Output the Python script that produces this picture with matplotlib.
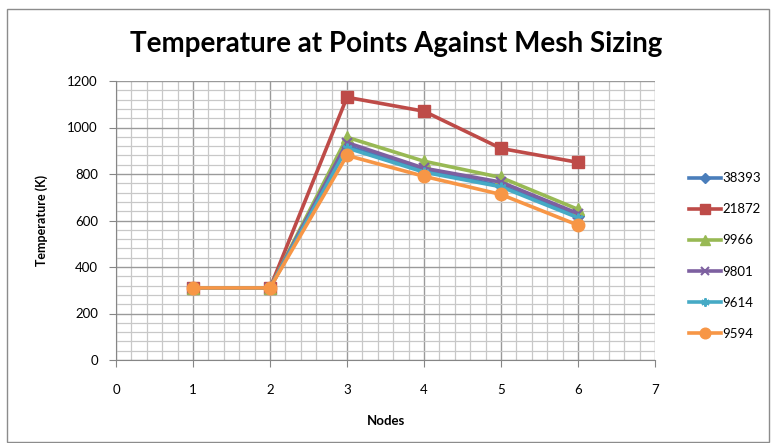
import matplotlib
matplotlib.use("Agg")
import matplotlib.pyplot as plt
from matplotlib.patches import Rectangle
from matplotlib.ticker import MultipleLocator

plt.rcParams['font.family'] = ['Lato', 'DejaVu Sans']

nodes = [1, 2, 3, 4, 5, 6]
series_names = ["38393", "21872", "9966", "9801", "9614", "9594"]
t_38393 = [310, 310, 920, 815, 750, 620]
t_21872 = [310, 310, 1130, 1070, 910, 850]
t_9966 = [310, 310, 958, 855, 785, 648]
t_9801 = [310, 310, 935, 825, 765, 630]
t_9614 = [310, 310, 912, 808, 745, 612]
t_9594 = [310, 310, 880, 790, 712, 580]
series_values = [t_38393, t_21872, t_9966, t_9801, t_9614, t_9594]

colors = ["#4A7EBB", "#BE4B48", "#98B954", "#7D60A0", "#46AAC5", "#F79646"]
markers = ["D", "s", "^", "x", (6, 2, 0), "o"]
msizes = [6, 9, 8, 7, 7, 9]

fig = plt.figure(figsize=(7.71, 4.43), dpi=100)
fig.patches.append(Rectangle((7 / 771, 1 / 443), 762 / 771, 433 / 443,
                             transform=fig.transFigure, fill=False,
                             edgecolor="#8C8C8C", linewidth=1.0))

ax = fig.add_axes([116 / 771, 1 - 360 / 443, 539 / 771, 279 / 443])
ax.set_xlim(0, 7)
ax.set_ylim(0, 1200)
ax.xaxis.set_major_locator(MultipleLocator(1))
ax.xaxis.set_minor_locator(MultipleLocator(0.2))
ax.yaxis.set_major_locator(MultipleLocator(200))
ax.yaxis.set_minor_locator(MultipleLocator(40))
ax.grid(which="minor", color="#C8C8C8", linewidth=0.9)
ax.grid(which="major", color="#9A9A9A", linewidth=1.0)
ax.set_axisbelow(True)

for name, vals, c, m, ms in zip(series_names, series_values, colors, markers, msizes):
    mew = 1.5 if m in ("x", (6, 2, 0)) else 1
    ax.plot(nodes, vals, color=c, linewidth=2.6, marker=m, markersize=ms,
            markeredgewidth=mew, markeredgecolor=c, markerfacecolor=c, label=name)

for side in ("top", "right"):
    ax.spines[side].set_visible(False)
for side in ("left", "bottom"):
    ax.spines[side].set_color("#868686")
ax.tick_params(which="minor", length=0)
ax.tick_params(which="major", length=5, color="#868686", labelsize=9.5, pad=8)
ax.tick_params(axis="x", pad=12)
ax.set_xlabel("Nodes", fontsize=9.5, fontweight="bold", labelpad=14)
ax.set_ylabel("Temperature (K)", fontsize=9, fontweight="bold", labelpad=14)

fig.text(396 / 771, 1 - 44 / 443, "Temperature at Points Against Mesh Sizing",
         ha="center", va="center", fontsize=20, fontweight="bold")

fig.legend(loc="center left", bbox_to_anchor=(677 / 771, 1 - 256 / 443),
           frameon=False, fontsize=9.5, handlelength=2.4, labelspacing=1.45,
           handletextpad=0.15, markerscale=0.85)

fig.savefig("out.png", dpi=100)
